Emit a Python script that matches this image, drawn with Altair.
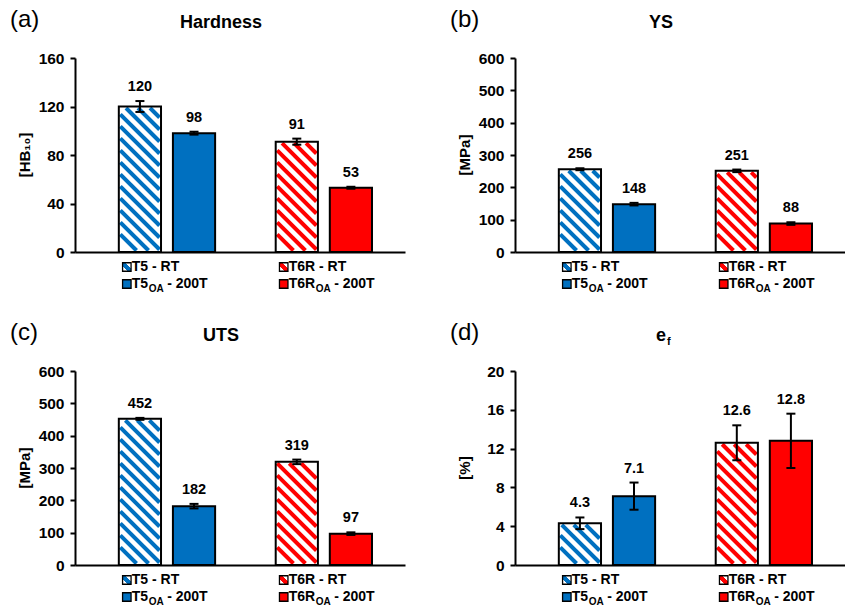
import altair as alt
import pandas as pd

# ---------------- data ----------------
categories = ["T5 - RT", "T5OA - 200T", "T6R - RT", "T6ROA - 200T"]
groups = [0, 0, 1, 1]
series = [0, 1, 0, 1]
hatched = [True, False, True, False]
colors = ["#0070C0", "#0070C0", "#FF0000", "#FF0000"]

hardness = [120, 98, 91, 53]
hardness_err = [4.5, 1.2, 2.5, 0.8]
ys = [256, 148, 251, 88]
ys_err = [3, 4, 4, 4]
uts = [452, 182, 319, 97]
uts_err = [3, 7, 7, 4]
ef = [4.3, 7.1, 12.6, 12.8]
ef_err = [0.6, 1.4, 1.8, 2.8]

# ---------------- layout / style ----------------
FONT = "Liberation Sans"
W, H = 330, 194
XMAX = 6.1
SX = W / XMAX
BAR_HALF = 0.39
FIRST = 1.2
GROUP_STEP = 2.9
HATCH_P = 12.0
HATCH_W = 4.0
CAP_HALF_PX = 4.5

CW = {"T": 0.611, "5": 0.556, "6": 0.556, "R": 0.722, " ": 0.278, "-": 0.333,
      "2": 0.556, "0": 0.556, "O": 0.778, "A": 0.722}


def tw(s, size):
    return sum(CW.get(c, 0.556) for c in s) * size


def make_panel(tag, title, vals, errs, ymax, yticks, ytitle, decimals, title_sub=""):
    sy = H / ymax
    rows = []
    for i, lab in enumerate(categories):
        c = FIRST + GROUP_STEP * groups[i] + series[i]
        rows.append(dict(label=lab, center=c, x0=c - BAR_HALF, x1=c + BAR_HALF,
                         value=vals[i], zero=0, lo=vals[i] - errs[i], hi=vals[i] + errs[i],
                         cap0=c - CAP_HALF_PX / SX, cap1=c + CAP_HALF_PX / SX,
                         fill="white" if hatched[i] else colors[i],
                         text=f"{vals[i]:.{decimals}f}"))
    df = pd.DataFrame(rows)

    # hatch segments (computed from bar values, drawn through the scales)
    hrows = []
    ins = 1.5
    for i, r in df.iterrows():
        if not hatched[i]:
            continue
        x0p, x1p = r.x0 * SX + ins, r.x1 * SX - ins
        bot, top = ins, r.value * sy - ins
        cc = x0p + bot + HATCH_P * 0.35
        while cc < x1p + top:
            xa = max(x0p, cc - top)
            xb = min(x1p, cc - bot)
            if xb - xa > 5.0:
                hrows.append(dict(hx0=xa / SX, hx1=xb / SX, hy0=(cc - xa) / sy,
                                  hy1=(cc - xb) / sy, col=colors[i]))
            cc += HATCH_P
    hdf = pd.DataFrame(hrows)

    xscale = alt.Scale(domain=[0, XMAX], nice=False, zero=False)
    yscale = alt.Scale(domain=[0, ymax], nice=False)
    xaxis = alt.Axis(labels=False, ticks=False, title="", grid=False)
    yaxis = alt.Axis(values=yticks, title="", grid=False)

    def X(f):
        return alt.X(f, scale=xscale, axis=xaxis)

    def Y(f):
        return alt.Y(f, scale=yscale, axis=yaxis)

    base = alt.Chart(df)
    fills = base.mark_rect(strokeWidth=0).encode(
        x=X("x0:Q"), x2="x1:Q", y=Y("value:Q"), y2="zero:Q",
        fill=alt.Fill("fill:N", scale=None))
    hatch = alt.Chart(hdf).mark_rule(strokeWidth=HATCH_W, strokeCap="butt").encode(
        x=X("hx0:Q"), x2="hx1:Q", y=Y("hy0:Q"), y2="hy1:Q",
        color=alt.Color("col:N", scale=None))
    outline = base.mark_rect(fillOpacity=0, stroke="black", strokeWidth=2).encode(
        x=X("x0:Q"), x2="x1:Q", y=Y("value:Q"), y2="zero:Q")
    err = base.mark_rule(color="black", strokeWidth=2).encode(
        x=X("center:Q"), y=Y("lo:Q"), y2="hi:Q")
    cap_hi = base.mark_rule(color="black", strokeWidth=2).encode(
        x=X("cap0:Q"), x2="cap1:Q", y=Y("hi:Q"))
    cap_lo = base.mark_rule(color="black", strokeWidth=2).encode(
        x=X("cap0:Q"), x2="cap1:Q", y=Y("lo:Q"))
    vlabels = base.mark_text(font=FONT, fontSize=14.5, fontWeight="bold", baseline="alphabetic",
                             dy=-10, color="black").encode(
        x=X("center:Q"), y=Y("hi:Q"), text="text:N")

    # ---- custom legend ----
    sym_rows, t0_rows, t1_rows, sub_rows = [], [], [], []
    for i, lab in enumerate(categories):
        left = FIRST + GROUP_STEP * groups[i] - BAR_HALF
        sym_rows.append(dict(lx=left + 8.0 / SX, kind=i, row=series[i]))
        tx = left + 13.0 / SX
        if "OA" in lab:
            main, rest = lab.split("OA")
            rest = rest.strip()
            t1_rows.append(dict(lx=tx, t=main))
            sx_ = tx + (tw(main, 14) + 0.5) / SX
            sub_rows.append(dict(lx=sx_, t="OA"))
            t1_rows.append(dict(lx=sx_ + (tw("OA", 10) + 3.5) / SX, t=rest))
        else:
            t0_rows.append(dict(lx=tx, t=lab))
    leg_layers = []
    for i in range(len(categories)):
        r = sym_rows[i]
        yv = H + 15 if r["row"] == 0 else H + 32
        if hatched[i]:
            fill = alt.LinearGradient(
                gradient="linear", x1=0, y1=1, x2=1, y2=0,
                stops=[alt.GradientStop(color="white", offset=0),
                       alt.GradientStop(color="white", offset=0.32),
                       alt.GradientStop(color=colors[i], offset=0.32),
                       alt.GradientStop(color=colors[i], offset=0.68),
                       alt.GradientStop(color="white", offset=0.68),
                       alt.GradientStop(color="white", offset=1)])
        else:
            fill = colors[i]
        leg_layers.append(
            alt.Chart(pd.DataFrame([r])).mark_square(size=72, fill=fill, fillOpacity=1,
                                                     stroke="black", strokeWidth=1.3).encode(
                x=X("lx:Q"), y=alt.value(yv)))
    tstyle = dict(font=FONT, fontWeight="bold", color="black", align="left", baseline="middle")
    leg_layers.append(alt.Chart(pd.DataFrame(t0_rows)).mark_text(fontSize=14, **tstyle).encode(
        x=X("lx:Q"), y=alt.value(H + 15), text="t:N"))
    leg_layers.append(alt.Chart(pd.DataFrame(t1_rows)).mark_text(fontSize=14, **tstyle).encode(
        x=X("lx:Q"), y=alt.value(H + 32), text="t:N"))
    leg_layers.append(alt.Chart(pd.DataFrame(sub_rows)).mark_text(fontSize=10, **tstyle).encode(
        x=X("lx:Q"), y=alt.value(H + 37), text="t:N"))

    # ---- titles ----
    tdf = pd.DataFrame({"t": [title]})
    ttl = alt.Chart(tdf).mark_text(font=FONT, fontSize=18, fontWeight="bold", color="black",
                                   align="center", baseline="alphabetic").encode(
        x=alt.value(146), y=alt.value(-30), text="t:N")
    extra = []
    if title_sub:
        extra.append(alt.Chart(pd.DataFrame({"t": [title_sub]})).mark_text(
            font=FONT, fontSize=11, fontWeight="bold", color="black", align="left",
            baseline="alphabetic").encode(x=alt.value(152), y=alt.value(-26), text="t:N"))
    tagc = alt.Chart(pd.DataFrame({"t": [tag]})).mark_text(
        font=FONT, fontSize=24, color="black", align="left", baseline="alphabetic").encode(
        x=alt.value(-65), y=alt.value(-31), text="t:N")
    ytl = alt.Chart(pd.DataFrame({"t": [ytitle]})).mark_text(
        font=FONT, fontSize=15, fontWeight=700, color="black", angle=270,
        align="center", baseline="middle").encode(
        x=alt.value(-50), y=alt.value(H / 2), text="t:N")

    return alt.layer(fills, hatch, outline, err, cap_hi, cap_lo, vlabels, *leg_layers,
                     ttl, tagc, ytl, *extra).properties(width=W, height=H)


pa = make_panel("(a)", "Hardness", hardness, hardness_err, 160, [0, 40, 80, 120, 160], "[HB₁₀]", 0)
pb = make_panel("(b)", "YS", ys, ys_err, 600, [0, 100, 200, 300, 400, 500, 600], "[MPa]", 0)
pc = make_panel("(c)", "UTS", uts, uts_err, 600, [0, 100, 200, 300, 400, 500, 600], "[MPa]", 0)
pd_ = make_panel("(d)", "e", ef, ef_err, 20, [0, 4, 8, 12, 16, 20], "[%]", 1, title_sub="f")

chart = alt.concat(pa, pb, pc, pd_, columns=2, spacing={"row": 119, "column": 110},
                   bounds="flush").properties(
    padding={"left": 10, "top": 8, "right": 0, "bottom": 0},
    background="white",
).configure_view(strokeWidth=0).configure_axis(
    domainColor="black", domainWidth=2, tickColor="black", tickWidth=2, tickSize=5,
    labelColor="black", labelFont=FONT, labelFontSize=15.5, labelFontWeight="bold",
    labelPadding=6, grid=False)

chart.save("out.html", embed_options={"renderer": "svg", "actions": False})
